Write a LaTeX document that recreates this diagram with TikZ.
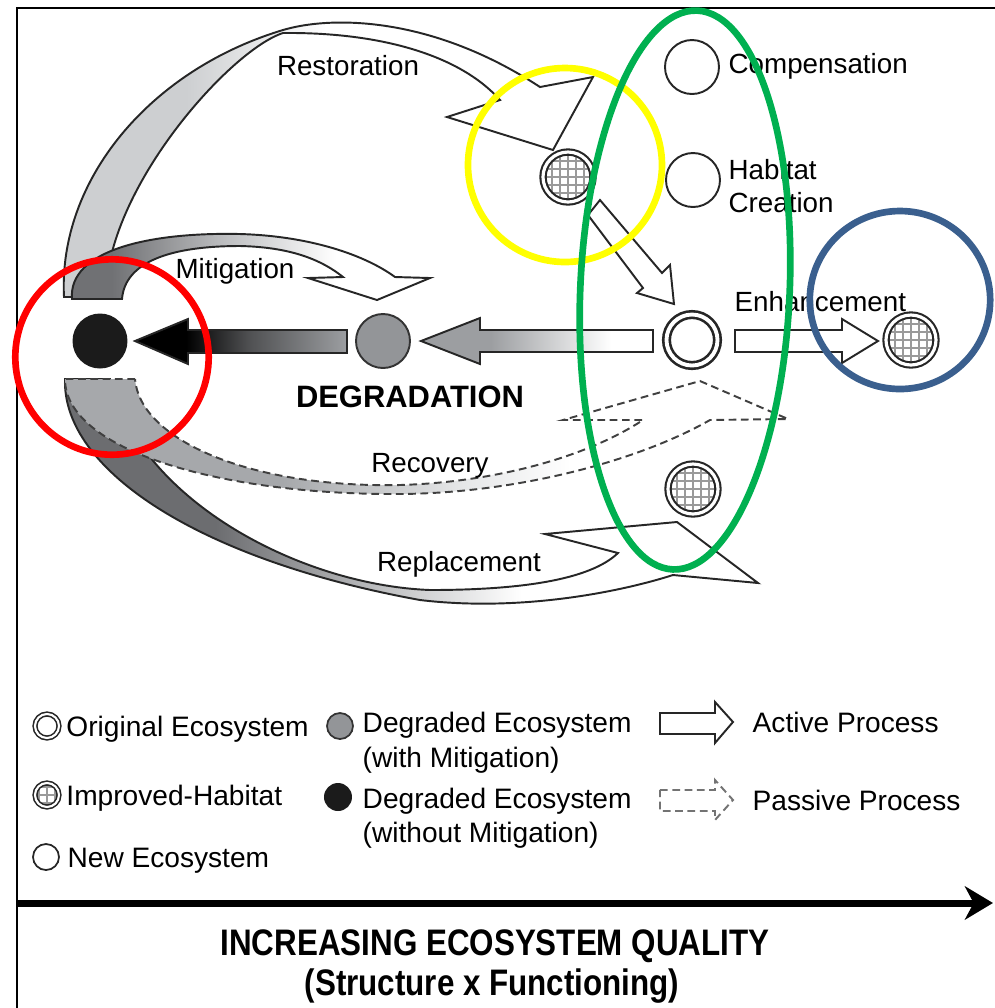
\documentclass[tikz,border=0pt]{standalone}
\usepackage{fontspec}
\setmainfont{Liberation Sans}
\newfontfamily\capfont{Liberation Sans}[FakeStretch=0.85]
\usetikzlibrary{arrows.meta}
\usetikzlibrary{positioning}

\definecolor{degrey}{HTML}{939598}
\definecolor{deblack}{HTML}{1B1B1B}
\definecolor{arrowgrey}{HTML}{9C9EA1}
\definecolor{shaftdark}{HTML}{505153}
\definecolor{restgrey}{HTML}{CDCFD1}
\definecolor{mitgrey}{HTML}{707174}
\definecolor{mitmid}{HTML}{BFC0C2}
\definecolor{recgrey}{HTML}{A6A8AB}
\definecolor{reclight}{HTML}{E4E5E6}
\definecolor{repgrey}{HTML}{6C6D70}
\definecolor{repmid}{HTML}{B8B9BB}
\definecolor{gridgrey}{HTML}{9A9A9A}
\definecolor{markred}{HTML}{FF0000}
\definecolor{markyellow}{HTML}{FFFF00}
\definecolor{markgreen}{HTML}{00B050}
\definecolor{markblue}{HTML}{3A5F8E}

% fades for the process arrows (25bp = left edge of the path, 75bp = right edge)
\pgfdeclarehorizontalshading{restfade}{100bp}{color(0bp)=(restgrey); color(37bp)=(restgrey); color(50bp)=(white); color(100bp)=(white)}
\pgfdeclarehorizontalshading{mitfade}{100bp}{color(0bp)=(mitgrey); color(31bp)=(mitgrey); color(47bp)=(mitmid); color(62bp)=(white); color(100bp)=(white)}
\pgfdeclarehorizontalshading{recfade}{100bp}{color(0bp)=(recgrey); color(40bp)=(recgrey); color(52bp)=(reclight); color(60bp)=(white); color(100bp)=(white)}
\pgfdeclarehorizontalshading{repfade}{100bp}{color(0bp)=(repgrey); color(36bp)=(repgrey); color(47bp)=(repmid); color(58bp)=(white); color(100bp)=(white)}
\pgfdeclarehorizontalshading{degfadeA}{100bp}{color(0bp)=(black); color(37bp)=(black); color(52bp)=(shaftdark); color(75bp)=(arrowgrey); color(100bp)=(arrowgrey)}
\pgfdeclarehorizontalshading{degfadeB}{100bp}{color(0bp)=(arrowgrey); color(40bp)=(arrowgrey); color(66bp)=(white); color(100bp)=(white)}

\tikzset{
    outline/.style = {draw=black!85, line width=0.55pt},
    passline/.style = {draw=black!75, line width=0.55pt, dash pattern=on 2.2pt off 1.3pt},
    newnode/.style = {circle, draw=black!85, line width=0.55pt, fill=white, minimum size=5.4mm, inner sep=0pt},
    orignode/.style = {circle, draw=black!85, line width=0.75pt, double=white, double distance=1.1pt, fill=white, minimum size=5.1mm, inner sep=0pt},
    impnode/.style = {orignode, line width=0.6pt, double distance=0.9pt, minimum size=5.0mm,
        path picture={\draw[gridgrey, line width=0.4pt] ([shift={(-0.3mm,-0.3mm)}]path picture bounding box.south west) grid[step=0.8mm] (path picture bounding box.north east);}},
    greynode/.style = {circle, draw=black!80, line width=0.55pt, fill=degrey, minimum size=5.4mm, inner sep=0pt},
    blacknode/.style = {circle, fill=deblack, minimum size=5.5mm, inner sep=0pt},
    lab/.style = {inner sep=0pt, text height=5.7pt, text depth=0pt, font=\fontsize{7.9}{9.5}\selectfont},
    keytext/.style = {inner sep=0pt, text height=5.8pt, text depth=0pt, font=\fontsize{8}{9.6}\selectfont},
    degtext/.style = {inner sep=0pt, text height=6.3pt, text depth=0pt, font=\fontsize{8.8}{10}\selectfont\bfseries},
    captext/.style = {inner sep=0pt, text height=7.5pt, text depth=0pt, font={\capfont\bfseries\fontsize{10.5}{12}\selectfont}},
    circlemark/.style = {line width=1.9pt},
    axisarrow/.style = {line width=2pt, -{Stealth[length=8pt,width=9.5pt,inset=2.5pt]}},
    frameline/.style = {line width=0.6pt}
}

\begin{document}
\begin{tikzpicture}[x=0.1mm, y=-0.1mm]
\useasboundingbox (0,0) rectangle (995,1008);
\draw[frameline] (17,1008) -- (17,8) -- (995,8);
%
% curved process arrows, back to front
\shadedraw[shading=restfade, outline] (64,297) .. controls (58,180) and (150,70) .. (283,30)
    .. controls (330,16) and (430,15) .. (540,87) -- (593,77) -- (553,150) -- (447,117) -- (500,100)
    .. controls (460,55) and (380,32) .. (283,33) .. controls (230,50) and (105,190) .. (106,297) -- cycle;
\shadedraw[shading=mitfade, outline] (72,299) .. controls (68,250) and (150,232) .. (240,234)
    .. controls (310,236) and (365,255) .. (395,277) -- (430,278) -- (377,300) -- (308,278) -- (343,277)
    .. controls (318,257) and (285,247) .. (240,246) .. controls (170,246) and (125,262) .. (122,299) -- cycle;
\shadedraw[shading=repfade, outline] (65,379) .. controls (62,470) and (200,560) .. (420,600)
    .. controls (520,612) and (620,592) .. (673,575) -- (758,583) -- (677,522) -- (545,534) -- (618,553)
    .. controls (590,580) and (520,590) .. (430,590) .. controls (300,585) and (140,500) .. (110,379) -- cycle;
\shadedraw[shading=recfade, passline] (135,379) -- (65,379) .. controls (65,450) and (220,495) .. (400,494)
    .. controls (520,493) and (640,460) .. (710,420) -- (788,419) -- (700,381) -- (563,420) -- (643,420)
    .. controls (590,455) and (500,482) .. (400,485) .. controls (250,488) and (140,440) .. (135,379) -- cycle;
%
% straight process arrows
\shadedraw[shading=degfadeA, outline] (347,330) -- (188,330) -- (188,319) -- (135,341) -- (188,364) -- (188,353) -- (347,353) -- cycle;
\shadedraw[shading=degfadeB, outline] (653,330) -- (480,330) -- (480,318) -- (421,341) -- (480,364) -- (480,352) -- (653,352) -- cycle;
\filldraw[fill=white, outline] (735,330) -- (842,330) -- (842,319) -- (878,341) -- (842,363) -- (842,352) -- (735,352) -- cycle;
\filldraw[fill=white, outline] (600,200) -- (662,273) -- (670,265) -- (674,304) -- (637,293) -- (643,288) -- (588,215) -- cycle;
%
% ecosystem states
\node[blacknode] at (100,341) (degx) {};
\node[greynode] at (383,341) (degm) {};
\node[orignode] at (692,340) (orig) {};
\node[impnode] at (568,177) (rest) {};
\node[newnode] at (692,67) (comp) {};
\node[newnode] at (693,180) (crea) {};
\node[impnode] at (911,340) (enha) {};
\node[impnode] at (693,489) (repl) {};
%
\node[lab] at (348,65) (restlab) {Restoration};
\node[lab] at (235,268) (mitlab) {Mitigation};
\node[lab, anchor=west] at (728,63) (complab) {Compensation};
\node[lab, anchor=west] at (728,169) (habilab) {Habitat};
\node[lab, anchor=west] at (728,202) (crealab) {Creation};
\node[lab, anchor=west] at (734,301) (enhalab) {Enhancement};
\node[degtext] at (410,396) (degrlab) {DEGRADATION};
\node[lab] at (430,462) (recolab) {Recovery};
\node[lab] at (459,561) (repllab) {Replacement};
%
% key
\node[orignode, minimum size=2.4mm, line width=0.45pt, double distance=0.6pt] at (47,726) (korig) {};
\node[keytext, right=0.6mm of korig] (korigt) {Original Ecosystem};
\node[impnode, minimum size=2.4mm, line width=0.45pt, double distance=0.6pt] at (47,795) (kimp) {};
\node[keytext, right=0.6mm of kimp] (kimpt) {Improved-Habitat};
\node[newnode, minimum size=2.6mm, line width=0.5pt] at (46,857) (knew) {};
\node[keytext, right=0.7mm of knew] (knewt) {New Ecosystem};
\node[greynode, minimum size=2.6mm, line width=0.5pt] at (340,726) (kgrey) {};
\node[keytext, anchor=west] at (362,722) (kgreyt) {Degraded Ecosystem};
\node[keytext, anchor=west] at (362,757) (kgreyu) {(with Mitigation)};
\node[blacknode, minimum size=2.8mm] at (338,797) (kblack) {};
\node[keytext, anchor=west] at (362,798) (kblackt) {Degraded Ecosystem};
\node[keytext, anchor=west] at (362,832) (kblacku) {(without Mitigation)};
\filldraw[fill=white, outline] (660,713) -- (715,713) -- (715,702) -- (733,722) -- (715,743) -- (715,734) -- (660,734) -- cycle;
\node[keytext, anchor=west] at (752,722) (kactt) {Active Process};
\draw[passline, draw=black!55] (660,790) -- (715,790) -- (715,780) -- (733,800) -- (715,820) -- (715,811) -- (660,811) -- cycle;
\node[keytext, anchor=west] at (752,800) (kpast) {Passive Process};
%
% quality axis
\coordinate (axstart) at (17,903);
\coordinate (axend) at (993,903);
\draw[axisarrow] (axstart) -- (axend);
\node[captext] at (495,942) (capa) {INCREASING ECOSYSTEM QUALITY};
\node[captext] at (492,982) (capb) {(Structure x Functioning)};
%
% highlight rings
\draw[circlemark, markred] (112,357) ellipse [x radius=0.967cm, y radius=0.977cm];
\draw[circlemark, markyellow] (565,165) circle [radius=0.97cm];
\draw[circlemark, markgreen, rotate around={-2.5:(685,290)}] (685,290) ellipse [x radius=1.047cm, y radius=2.797cm];
\draw[circlemark, markblue] (900,300) ellipse [x radius=0.902cm, y radius=0.89cm];
\end{tikzpicture}
\end{document}
